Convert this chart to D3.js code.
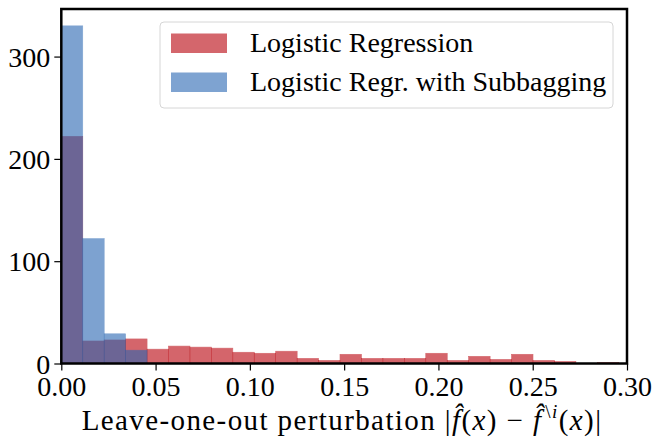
<!DOCTYPE html>
<html>
<head>
<meta charset="utf-8">
<script src="https://cdn.jsdelivr.net/npm/d3@7"></script>
<style>
  body { margin: 0; background: #fff; }
  text { font-family: "Liberation Serif", "DejaVu Serif", serif; fill: #000; }
</style>
</head>
<body>
<div id="chart"></div>
<script>
// histogram counts per bin, bins start at 0 with fixed width
const binWidth = 0.01137;
const logRegCounts = [222, 22, 23, 24, 14, 17, 16, 15, 11, 10, 12, 5, 3, 9, 5, 5, 5, 10, 3, 7, 4, 9, 3, 2, 0, 1];
const subbagCounts = [330, 122, 29, 13];
const xTicks = [0, 0.05, 0.10, 0.15, 0.20, 0.25, 0.30];
const yTicks = [0, 100, 200, 300];
const seriesNames = ["Logistic Regression", "Logistic Regr. with Subbagging"];

const width = 653, height = 442;
const margin = { top: 9, right: 26, bottom: 78.5, left: 61.3 };

const svg = d3.select("#chart").append("svg")
    .attr("width", width)
    .attr("height", height);

const x = d3.scaleLinear().domain([0, 0.30]).range([margin.left, width - margin.right]);
const y = d3.scaleLinear().domain([0, 346.5]).range([height - margin.bottom, margin.top]);

const redBase = "#b8000a", blueBase = "#2866b2";

function drawBars(counts, color) {
    svg.append("g").selectAll("rect")
        .data(counts)
        .join("rect")
        .attr("x", (d, i) => x(i * binWidth))
        .attr("width", (d, i) => x((i + 1) * binWidth) - x(i * binWidth))
        .attr("y", d => y(d))
        .attr("height", d => y(0) - y(d))
        .attr("fill", color)
        .attr("stroke", color)
        .attr("stroke-width", 0.6)
        .attr("opacity", 0.6);
}
drawBars(logRegCounts, redBase);
drawBars(subbagCounts, blueBase);

// axes
const fmt = d3.format(".2f");
const xAxis = svg.append("g")
    .attr("transform", `translate(0,${y(0)})`)
    .call(d3.axisBottom(x).tickValues(xTicks).tickFormat(fmt).tickSize(7).tickPadding(3));
const yAxis = svg.append("g")
    .attr("transform", `translate(${x(0)},0)`)
    .call(d3.axisLeft(y).tickValues(yTicks).tickSize(7).tickPadding(4));
[xAxis, yAxis].forEach(g => {
    g.select(".domain").remove();
    g.selectAll(".tick line").attr("stroke", "#000").attr("stroke-width", 1.2);
    g.selectAll(".tick text").attr("font-size", 28).attr("fill", "#000")
        .style("font-family", "'Liberation Serif', serif");
});
xAxis.selectAll(".tick text").attr("dy", "0.82em");
yAxis.selectAll(".tick text").attr("dy", "0.34em");

// frame
svg.append("rect")
    .attr("x", x(0)).attr("y", y(346.5))
    .attr("width", x(0.30) - x(0)).attr("height", y(0) - y(346.5))
    .attr("fill", "none").attr("stroke", "#000").attr("stroke-width", 2.5);

// legend
const legend = svg.append("g");
legend.append("rect")
    .attr("x", 160).attr("y", 22).attr("width", 453).attr("height", 86)
    .attr("rx", 4).attr("fill", "#fff").attr("fill-opacity", 0.8)
    .attr("stroke", "#d6d6d6").attr("stroke-width", 1);
const legColors = [redBase, blueBase];
seriesNames.forEach((name, i) => {
    legend.append("rect")
        .attr("x", 171).attr("y", 33.5 + i * 39).attr("width", 56).attr("height", 19.5)
        .attr("fill", legColors[i]).attr("opacity", 0.6);
    legend.append("text")
        .attr("x", 250).attr("y", 52 + i * 39)
        .attr("font-size", 28)
        .text(name);
});

// x label with math
const xl = svg.append("text")
    .attr("x", 342)
    .attr("y", 430)
    .attr("text-anchor", "middle")
    .attr("font-size", 29)
    .attr("letter-spacing", 1.4);
xl.append("tspan").text("Leave-one-out perturbation |");
xl.append("tspan").attr("font-style", "italic").text("f\u0302");
xl.append("tspan").text("(");
xl.append("tspan").attr("font-style", "italic").text("x");
xl.append("tspan").text(") \u2212 ");
xl.append("tspan").attr("font-style", "italic").text("f\u0302");
xl.append("tspan").attr("font-size", 19).attr("dx", 3).attr("dy", -12).text("\\");
xl.append("tspan").attr("font-size", 19).attr("font-style", "italic").text("i");
xl.append("tspan").attr("dy", 12).text("(");
xl.append("tspan").attr("font-style", "italic").text("x");
xl.append("tspan").text(")|");
</script>
</body>
</html>
